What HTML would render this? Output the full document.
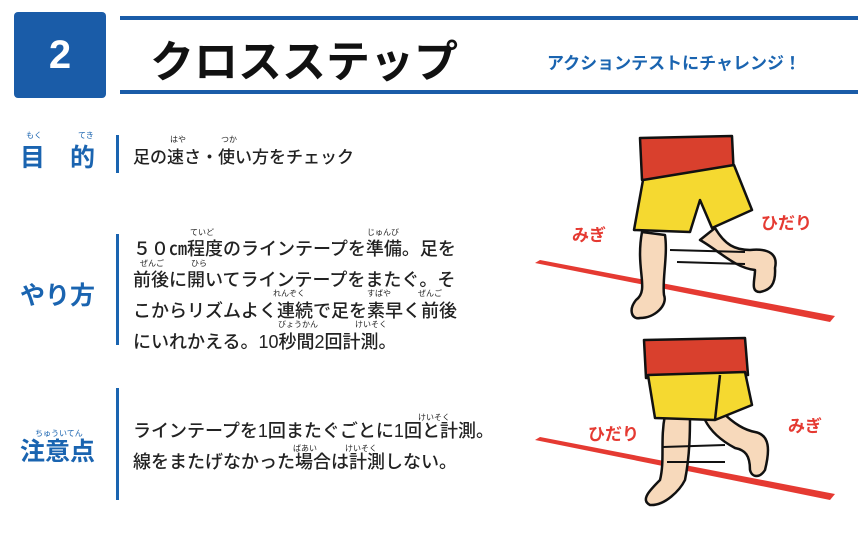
<!DOCTYPE html>
<html><head><meta charset="utf-8"><style>
body{margin:0;width:865px;height:536px;background:#fff;position:relative;overflow:hidden;font-family:"Liberation Sans","Noto Sans CJK JP",sans-serif}
.a{position:absolute;white-space:nowrap}
.blue{color:#1a64b0}
.bar{position:absolute;left:116px;width:3px;background:#1a64b0}
.t{font-size:18px;color:#222;font-weight:500}
.r{font-size:8px;color:#222}
.lab{font-size:25px;font-weight:bold;color:#1a64b0}
</style></head><body>
<div class="a" style="left:14px;top:12px;width:92px;height:86px;background:#1a5ca8;border-radius:4px;color:#fff;font-size:40px;font-weight:bold;text-align:center;line-height:86px">2</div>
<div class="a" style="left:120px;top:16px;width:738px;height:4px;background:#1a5ca8"></div>
<div class="a" style="left:120px;top:90px;width:738px;height:4px;background:#1a5ca8"></div>
<div class="a" style="left:150px;top:26px;font-size:44px;font-weight:bold;color:#111">クロスステップ</div>
<div class="a blue" style="left:547px;top:49px;font-size:17px;font-weight:bold">アクションテストにチャレンジ！</div>

<div class="a r" style="left:26px;top:130px;color:#1a64b0">もく</div>
<div class="a r" style="left:78px;top:130px;color:#1a64b0">てき</div>
<div class="a lab" style="left:20px;top:138px">目　的</div>
<div class="bar" style="top:135px;height:38px"></div>
<div class="a r" style="left:170px;top:134px">はや</div>
<div class="a r" style="left:221px;top:134px">つか</div>
<div class="a t" style="left:133px;top:143px;font-size:17px">足の速さ・使い方をチェック</div>

<div class="a lab" style="left:20px;top:276px">やり方</div>
<div class="bar" style="top:234px;height:111px"></div>
<div class="a t" style="left:133px;top:234px;line-height:31px">５０㎝程度のラインテープを準備。足を<br>前後に開いてラインテープをまたぐ。そ<br>こからリズムよく連続で足を素早く前後<br>にいれかえる。10秒間2回計測。</div>
<div class="a r" style="left:190px;top:227px">ていど</div>
<div class="a r" style="left:367px;top:227px">じゅんび</div>
<div class="a r" style="left:140px;top:258px">ぜんご</div>
<div class="a r" style="left:191px;top:258px">ひら</div>
<div class="a r" style="left:273px;top:288px">れんぞく</div>
<div class="a r" style="left:367px;top:288px">すばや</div>
<div class="a r" style="left:418px;top:288px">ぜんご</div>
<div class="a r" style="left:278px;top:319px">びょうかん</div>
<div class="a r" style="left:355px;top:319px">けいそく</div>

<div class="a r" style="left:35px;top:428px;color:#1a64b0">ちゅういてん</div>
<div class="a lab" style="left:20px;top:432px">注意点</div>
<div class="bar" style="top:388px;height:112px"></div>
<div class="a t" style="left:133px;top:416px;line-height:31px">ラインテープを1回またぐごとに1回と計測。<br>線をまたげなかった場合は計測しない。</div>
<div class="a r" style="left:418px;top:412px">けいそく</div>
<div class="a r" style="left:293px;top:443px">ばあい</div>
<div class="a r" style="left:345px;top:443px">けいそく</div>

<svg class="a" style="left:0;top:0" width="865" height="536">
<g stroke="#111" stroke-width="2.5" stroke-linejoin="round">
<polygon points="535,263 540,260 835,316 830,322" fill="#e53a32" stroke="none"/>
<path d="M642,232 C635,270 650,290 636,300 C628,310 632,320 640,318 C655,318 668,305 664,295 C662,280 668,255 665,235 Z" fill="#f7d9bb"/>
<path d="M715,228 C725,245 735,250 750,250 C770,248 778,255 775,268 C776,285 770,290 760,292 C750,292 755,280 755,270 C735,268 718,250 700,240 Z" fill="#f7d9bb"/>
<polygon points="640,138 732,136 734,178 642,180" fill="#d9402d"/>
<polygon points="643,180 734,165 752,210 712,228 700,200 690,232 634,230" fill="#f5d930"/>
<polygon points="535,440 540,437 835,494 830,500" fill="#e53a32" stroke="none"/>
<path d="M665,415 C660,440 665,460 660,480 C650,490 640,500 650,505 C665,506 680,490 685,480 C690,455 690,430 690,415 Z" fill="#f7d9bb"/>
<path d="M720,410 C735,425 745,430 755,432 C770,435 770,450 765,470 C760,478 752,478 750,470 C750,455 745,450 735,448 C720,440 710,430 705,420 Z" fill="#f7d9bb"/>
<polygon points="644,340 745,338 748,375 646,378" fill="#d9402d"/>
<polygon points="648,375 745,372 752,405 715,420 655,418" fill="#f5d930"/>
<path d="M720,375 L715,420" fill="none"/>
<path d="M670,250 L745,252 M677,262 L745,264 M663,447 L725,445 M667,462 L725,462" fill="none" stroke-width="2"/>
</g>
<g font-size="17" font-weight="bold" fill="#e53a32" font-family="Liberation Sans,Noto Sans CJK JP,sans-serif">
<text x="572" y="241">みぎ</text><text x="761" y="229">ひだり</text>
<text x="588" y="440">ひだり</text><text x="788" y="432">みぎ</text>
</g>
</svg>
</body></html>
